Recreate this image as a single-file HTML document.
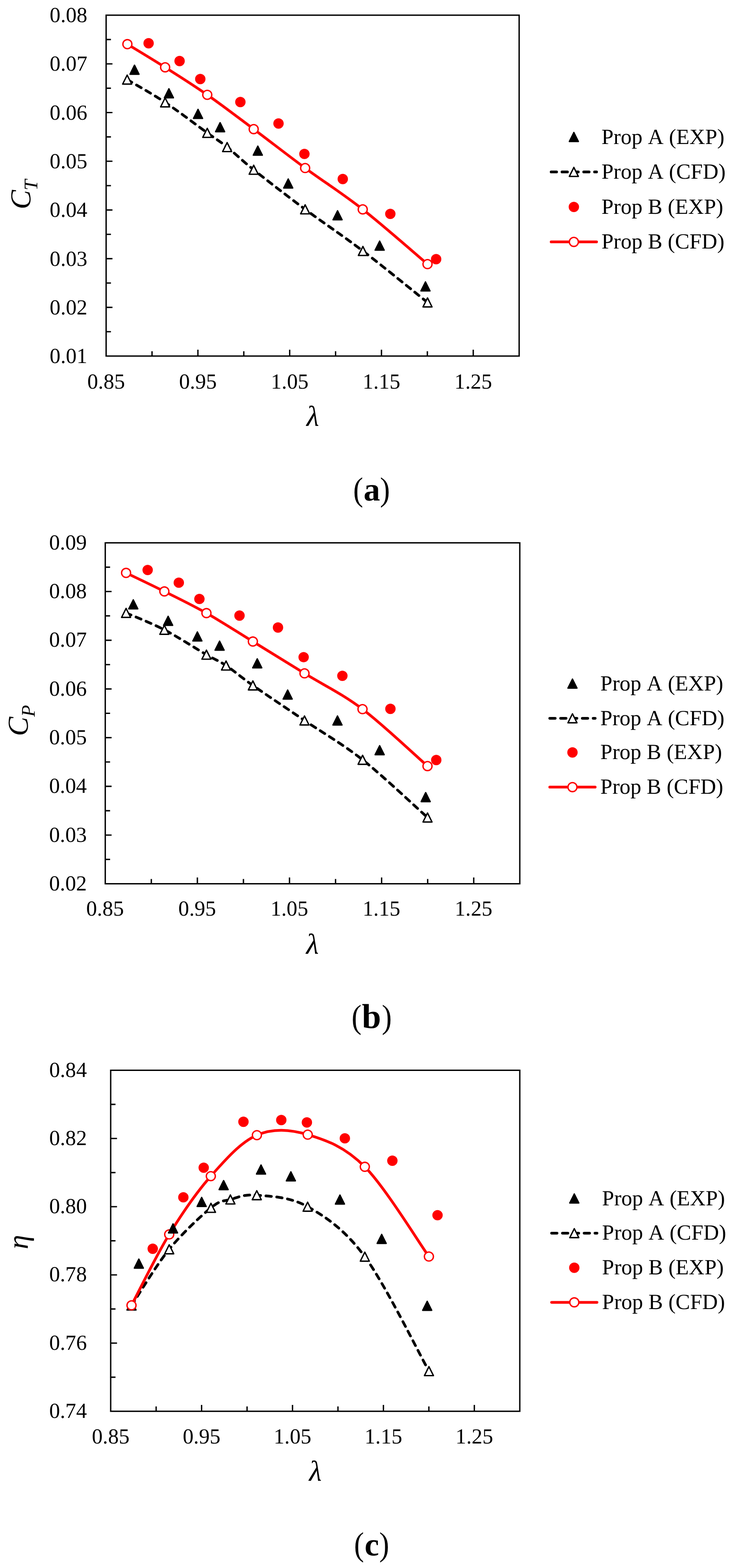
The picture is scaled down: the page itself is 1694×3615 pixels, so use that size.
<!DOCTYPE html>
<html lang="en"><head><meta charset="utf-8"><title>Propeller performance: thrust, power and efficiency</title>
<style>html,body{margin:0;padding:0;background:#fff}body{width:1694px;height:3615px;overflow:hidden}svg{display:block}text{font-family:"Liberation Serif","DejaVu Serif",serif;fill:#000;font-kerning:none;text-rendering:geometricPrecision}</style>
</head><body>
<svg width="1694" height="3615" viewBox="0 0 1694 3615">
<rect width="1694" height="3615" fill="#fff"/>
<g>
<path d="M293.1 183.5C307.68 192.25 349.83 215.53 380.6 236C411.37 256.47 453.88 289.12 477.7 306.3C501.52 323.48 505.67 324.92 523.5 339.1C541.33 353.28 554.73 367.48 584.7 391.4C614.67 415.32 661.35 451.4 703.3 482.6C745.25 513.8 789.4 542.83 836.4 578.6C883.4 614.37 960.48 677.43 985.3 697.2" fill="none" stroke="#000000" stroke-width="6.25" stroke-linecap="round" stroke-linejoin="round" stroke-dasharray="12.5 12.5" stroke-dashoffset="0"/>
<path d="M293.6 101.8C308.1 110.7 349.92 135.73 380.6 155.2C411.28 174.67 443.68 194.85 477.7 218.6C511.72 242.35 547.1 269.57 584.7 297.7C622.3 325.83 661.42 356.57 703.3 387.4C745.18 418.23 789 445.78 836 482.7C883 519.62 960.42 587.87 985.3 608.9" fill="none" stroke="#ff0000" stroke-width="6.25" stroke-linecap="round" stroke-linejoin="round"/>
<path d="M293.1 173.1L303.5 193.9L282.7 193.9Z" fill="#fff" stroke="#000000" stroke-width="3.12" stroke-linejoin="round"/>
<path d="M380.6 225.6L391 246.4L370.2 246.4Z" fill="#fff" stroke="#000000" stroke-width="3.12" stroke-linejoin="round"/>
<path d="M477.7 295.9L488.1 316.7L467.3 316.7Z" fill="#fff" stroke="#000000" stroke-width="3.12" stroke-linejoin="round"/>
<path d="M523.5 328.7L533.9 349.5L513.1 349.5Z" fill="#fff" stroke="#000000" stroke-width="3.12" stroke-linejoin="round"/>
<path d="M584.7 381L595.1 401.8L574.3 401.8Z" fill="#fff" stroke="#000000" stroke-width="3.12" stroke-linejoin="round"/>
<path d="M703.3 472.2L713.7 493L692.9 493Z" fill="#fff" stroke="#000000" stroke-width="3.12" stroke-linejoin="round"/>
<path d="M836.4 568.2L846.8 589L826 589Z" fill="#fff" stroke="#000000" stroke-width="3.12" stroke-linejoin="round"/>
<path d="M985.3 686.8L995.7 707.6L974.9 707.6Z" fill="#fff" stroke="#000000" stroke-width="3.12" stroke-linejoin="round"/>
<circle cx="293.6" cy="101.8" r="10.4" fill="#fff" stroke="#ff0000" stroke-width="3.12"/>
<circle cx="380.6" cy="155.2" r="10.4" fill="#fff" stroke="#ff0000" stroke-width="3.12"/>
<circle cx="477.7" cy="218.6" r="10.4" fill="#fff" stroke="#ff0000" stroke-width="3.12"/>
<circle cx="584.7" cy="297.7" r="10.4" fill="#fff" stroke="#ff0000" stroke-width="3.12"/>
<circle cx="703.3" cy="387.4" r="10.4" fill="#fff" stroke="#ff0000" stroke-width="3.12"/>
<circle cx="836" cy="482.7" r="10.4" fill="#fff" stroke="#ff0000" stroke-width="3.12"/>
<circle cx="985.3" cy="608.9" r="10.4" fill="#fff" stroke="#ff0000" stroke-width="3.12"/>
<path d="M310 150.3L320.4 171.1L299.6 171.1Z" fill="#000000" stroke="#000000" stroke-width="3.12" stroke-linejoin="round"/>
<path d="M389.3 204.7L399.7 225.5L378.9 225.5Z" fill="#000000" stroke="#000000" stroke-width="3.12" stroke-linejoin="round"/>
<path d="M456.4 252.2L466.8 273L446 273Z" fill="#000000" stroke="#000000" stroke-width="3.12" stroke-linejoin="round"/>
<path d="M507.3 282.8L517.7 303.6L496.9 303.6Z" fill="#000000" stroke="#000000" stroke-width="3.12" stroke-linejoin="round"/>
<path d="M594.2 337L604.6 357.8L583.8 357.8Z" fill="#000000" stroke="#000000" stroke-width="3.12" stroke-linejoin="round"/>
<path d="M664.3 412.6L674.7 433.4L653.9 433.4Z" fill="#000000" stroke="#000000" stroke-width="3.12" stroke-linejoin="round"/>
<path d="M778 485.9L788.4 506.7L767.6 506.7Z" fill="#000000" stroke="#000000" stroke-width="3.12" stroke-linejoin="round"/>
<path d="M875 556L885.4 576.8L864.6 576.8Z" fill="#000000" stroke="#000000" stroke-width="3.12" stroke-linejoin="round"/>
<path d="M980.6 650L991 670.8L970.2 670.8Z" fill="#000000" stroke="#000000" stroke-width="3.12" stroke-linejoin="round"/>
<circle cx="342.5" cy="99.8" r="10.4" fill="#ff0000" stroke="#ff0000" stroke-width="3.12"/>
<circle cx="413.9" cy="140.8" r="10.4" fill="#ff0000" stroke="#ff0000" stroke-width="3.12"/>
<circle cx="461.6" cy="182.3" r="10.4" fill="#ff0000" stroke="#ff0000" stroke-width="3.12"/>
<circle cx="554" cy="235.2" r="10.4" fill="#ff0000" stroke="#ff0000" stroke-width="3.12"/>
<circle cx="641.9" cy="284.8" r="10.4" fill="#ff0000" stroke="#ff0000" stroke-width="3.12"/>
<circle cx="701.6" cy="354.9" r="10.4" fill="#ff0000" stroke="#ff0000" stroke-width="3.12"/>
<circle cx="790" cy="412.8" r="10.4" fill="#ff0000" stroke="#ff0000" stroke-width="3.12"/>
<circle cx="899.6" cy="493.1" r="10.4" fill="#ff0000" stroke="#ff0000" stroke-width="3.12"/>
<circle cx="1005.2" cy="597.5" r="10.4" fill="#ff0000" stroke="#ff0000" stroke-width="3.12"/>
<rect x="244.6" y="35" width="951.9" height="785.9" fill="none" stroke="#000" stroke-width="3.12"/>
<path d="M244.6 91.14h11.1M244.6 147.27h14.6M244.6 203.41h11.1M244.6 259.54h14.6M244.6 315.68h11.1M244.6 371.81h14.6M244.6 427.95h11.1M244.6 484.09h14.6M244.6 540.22h11.1M244.6 596.36h14.6M244.6 652.49h11.1M244.6 708.63h14.6M244.6 764.76h11.1M350.37 820.9v-11.1M456.13 820.9v-14.6M561.9 820.9v-11.1M667.67 820.9v-14.6M773.43 820.9v-11.1M879.2 820.9v-14.6M984.97 820.9v-11.1M1090.73 820.9v-14.6" fill="none" stroke="#000" stroke-width="3.12"/>
<text x="201.4" y="51.2" font-size="49.6" text-anchor="end">0.08</text>
<text x="201.4" y="163.47" font-size="49.6" text-anchor="end">0.07</text>
<text x="201.4" y="275.74" font-size="49.6" text-anchor="end">0.06</text>
<text x="201.4" y="388.01" font-size="49.6" text-anchor="end">0.05</text>
<text x="201.4" y="500.29" font-size="49.6" text-anchor="end">0.04</text>
<text x="201.4" y="612.56" font-size="49.6" text-anchor="end">0.03</text>
<text x="201.4" y="724.83" font-size="49.6" text-anchor="end">0.02</text>
<text x="201.4" y="837.1" font-size="49.6" text-anchor="end">0.01</text>
<text x="244.6" y="895.9" font-size="49.6" text-anchor="middle">0.85</text>
<text x="456.13" y="895.9" font-size="49.6" text-anchor="middle">0.95</text>
<text x="667.67" y="895.9" font-size="49.6" text-anchor="middle">1.05</text>
<text x="879.2" y="895.9" font-size="49.6" text-anchor="middle">1.15</text>
<text x="1090.73" y="895.9" font-size="49.6" text-anchor="middle">1.25</text>
<text x="721" y="981.5" font-size="66.7" font-style="italic" text-anchor="middle">λ</text>
<text transform="translate(70 482.5) rotate(-90)" font-size="66.7" font-style="italic">C<tspan font-size="44.5" dy="16" dx="-0.9">T</tspan></text>
<path d="M1322.6 305.5L1333 326.3L1312.2 326.3Z" fill="#000000" stroke="#000000" stroke-width="3.12" stroke-linejoin="round"/>
<path d="M1270.3 396.4H1374.9" fill="none" stroke="#000" stroke-width="6.25" stroke-linecap="round" stroke-dasharray="12.5 12.5"/>
<path d="M1322.6 386L1333 406.8L1312.2 406.8Z" fill="#fff" stroke="#000000" stroke-width="3.12" stroke-linejoin="round"/>
<circle cx="1322.6" cy="477.1" r="10.4" fill="#ff0000" stroke="#ff0000" stroke-width="3.12"/>
<path d="M1270.3 557.7H1374.9" fill="none" stroke="#ff0000" stroke-width="6.25" stroke-linecap="round"/>
<circle cx="1322.6" cy="557.7" r="10.4" fill="#fff" stroke="#ff0000" stroke-width="3.12"/>
<text x="1386.3" y="332.2" font-size="50">Prop A (EXP)</text>
<text x="1386.3" y="412.3" font-size="50">Prop A (CFD)</text>
<text x="1386.3" y="492.7" font-size="50">Prop B (EXP)</text>
<text x="1386.3" y="573.3" font-size="50">Prop B (CFD)</text>
<text transform="translate(814.06 1153.7) scale(0.92 1.03)" font-size="75">(</text>
<text transform="translate(875.7 1153.7) scale(0.92 1.03)" font-size="75">)</text>
<text x="838" y="1153.5" font-size="76" font-weight="bold">a</text>
</g>
<g>
<path d="M290.6 1413C305.3 1419.5 347.93 1435.93 378.8 1452C409.67 1468.07 452.1 1495.68 475.8 1509.4C499.5 1523.12 503.17 1522.5 521 1534.3C538.83 1546.1 552.67 1559.08 582.8 1580.2C612.93 1601.32 659.65 1632.42 701.8 1661C743.95 1689.58 788.45 1714.42 835.7 1751.7C882.95 1788.98 960.37 1862.53 985.3 1884.7" fill="none" stroke="#000000" stroke-width="6.25" stroke-linecap="round" stroke-linejoin="round" stroke-dasharray="12.5 12.5" stroke-dashoffset="0"/>
<path d="M290.6 1320.8C305.3 1327.92 347.93 1348.05 378.8 1363.5C409.67 1378.95 441.8 1394.25 475.8 1413.5C509.8 1432.75 545.13 1455.85 582.8 1479C620.47 1502.15 659.68 1526.42 701.8 1552.4C743.92 1578.38 788.25 1599.27 835.5 1634.9C882.75 1670.53 960.33 1744.32 985.3 1766.2" fill="none" stroke="#ff0000" stroke-width="6.25" stroke-linecap="round" stroke-linejoin="round"/>
<path d="M290.6 1402.6L301 1423.4L280.2 1423.4Z" fill="#fff" stroke="#000000" stroke-width="3.12" stroke-linejoin="round"/>
<path d="M378.8 1441.6L389.2 1462.4L368.4 1462.4Z" fill="#fff" stroke="#000000" stroke-width="3.12" stroke-linejoin="round"/>
<path d="M475.8 1499L486.2 1519.8L465.4 1519.8Z" fill="#fff" stroke="#000000" stroke-width="3.12" stroke-linejoin="round"/>
<path d="M521 1523.9L531.4 1544.7L510.6 1544.7Z" fill="#fff" stroke="#000000" stroke-width="3.12" stroke-linejoin="round"/>
<path d="M582.8 1569.8L593.2 1590.6L572.4 1590.6Z" fill="#fff" stroke="#000000" stroke-width="3.12" stroke-linejoin="round"/>
<path d="M701.8 1650.6L712.2 1671.4L691.4 1671.4Z" fill="#fff" stroke="#000000" stroke-width="3.12" stroke-linejoin="round"/>
<path d="M835.7 1741.3L846.1 1762.1L825.3 1762.1Z" fill="#fff" stroke="#000000" stroke-width="3.12" stroke-linejoin="round"/>
<path d="M985.3 1874.3L995.7 1895.1L974.9 1895.1Z" fill="#fff" stroke="#000000" stroke-width="3.12" stroke-linejoin="round"/>
<circle cx="290.6" cy="1320.8" r="10.4" fill="#fff" stroke="#ff0000" stroke-width="3.12"/>
<circle cx="378.8" cy="1363.5" r="10.4" fill="#fff" stroke="#ff0000" stroke-width="3.12"/>
<circle cx="475.8" cy="1413.5" r="10.4" fill="#fff" stroke="#ff0000" stroke-width="3.12"/>
<circle cx="582.8" cy="1479" r="10.4" fill="#fff" stroke="#ff0000" stroke-width="3.12"/>
<circle cx="701.8" cy="1552.4" r="10.4" fill="#fff" stroke="#ff0000" stroke-width="3.12"/>
<circle cx="835.5" cy="1634.9" r="10.4" fill="#fff" stroke="#ff0000" stroke-width="3.12"/>
<circle cx="985.3" cy="1766.2" r="10.4" fill="#fff" stroke="#ff0000" stroke-width="3.12"/>
<path d="M307.2 1382.9L317.6 1403.7L296.8 1403.7Z" fill="#000000" stroke="#000000" stroke-width="3.12" stroke-linejoin="round"/>
<path d="M387.5 1421L397.9 1441.8L377.1 1441.8Z" fill="#000000" stroke="#000000" stroke-width="3.12" stroke-linejoin="round"/>
<path d="M454.9 1457L465.3 1477.8L444.5 1477.8Z" fill="#000000" stroke="#000000" stroke-width="3.12" stroke-linejoin="round"/>
<path d="M506.1 1478.1L516.5 1498.9L495.7 1498.9Z" fill="#000000" stroke="#000000" stroke-width="3.12" stroke-linejoin="round"/>
<path d="M592.9 1518.9L603.3 1539.7L582.5 1539.7Z" fill="#000000" stroke="#000000" stroke-width="3.12" stroke-linejoin="round"/>
<path d="M663 1590.9L673.4 1611.7L652.6 1611.7Z" fill="#000000" stroke="#000000" stroke-width="3.12" stroke-linejoin="round"/>
<path d="M777.8 1650.7L788.2 1671.5L767.4 1671.5Z" fill="#000000" stroke="#000000" stroke-width="3.12" stroke-linejoin="round"/>
<path d="M875 1719.2L885.4 1740L864.6 1740Z" fill="#000000" stroke="#000000" stroke-width="3.12" stroke-linejoin="round"/>
<path d="M981.1 1827.3L991.5 1848.1L970.7 1848.1Z" fill="#000000" stroke="#000000" stroke-width="3.12" stroke-linejoin="round"/>
<circle cx="340.3" cy="1314.1" r="10.4" fill="#ff0000" stroke="#ff0000" stroke-width="3.12"/>
<circle cx="412.1" cy="1343.4" r="10.4" fill="#ff0000" stroke="#ff0000" stroke-width="3.12"/>
<circle cx="459.6" cy="1380.9" r="10.4" fill="#ff0000" stroke="#ff0000" stroke-width="3.12"/>
<circle cx="552" cy="1419.3" r="10.4" fill="#ff0000" stroke="#ff0000" stroke-width="3.12"/>
<circle cx="640.7" cy="1446.7" r="10.4" fill="#ff0000" stroke="#ff0000" stroke-width="3.12"/>
<circle cx="699.8" cy="1515.1" r="10.4" fill="#ff0000" stroke="#ff0000" stroke-width="3.12"/>
<circle cx="789.1" cy="1558.1" r="10.4" fill="#ff0000" stroke="#ff0000" stroke-width="3.12"/>
<circle cx="899.8" cy="1634.2" r="10.4" fill="#ff0000" stroke="#ff0000" stroke-width="3.12"/>
<circle cx="1005.5" cy="1752.2" r="10.4" fill="#ff0000" stroke="#ff0000" stroke-width="3.12"/>
<rect x="242.6" y="1251.5" width="955.4" height="786" fill="none" stroke="#000" stroke-width="3.12"/>
<path d="M242.6 1307.64h11.1M242.6 1363.79h14.6M242.6 1419.93h11.1M242.6 1476.07h14.6M242.6 1532.21h11.1M242.6 1588.36h14.6M242.6 1644.5h11.1M242.6 1700.64h14.6M242.6 1756.79h11.1M242.6 1812.93h14.6M242.6 1869.07h11.1M242.6 1925.21h14.6M242.6 1981.36h11.1M348.76 2037.5v-11.1M454.91 2037.5v-14.6M561.07 2037.5v-11.1M667.22 2037.5v-14.6M773.38 2037.5v-11.1M879.53 2037.5v-14.6M985.69 2037.5v-11.1M1091.84 2037.5v-14.6" fill="none" stroke="#000" stroke-width="3.12"/>
<text x="200.1" y="1266.9" font-size="49.6" text-anchor="end">0.09</text>
<text x="200.1" y="1379.19" font-size="49.6" text-anchor="end">0.08</text>
<text x="200.1" y="1491.47" font-size="49.6" text-anchor="end">0.07</text>
<text x="200.1" y="1603.76" font-size="49.6" text-anchor="end">0.06</text>
<text x="200.1" y="1716.04" font-size="49.6" text-anchor="end">0.05</text>
<text x="200.1" y="1828.33" font-size="49.6" text-anchor="end">0.04</text>
<text x="200.1" y="1940.61" font-size="49.6" text-anchor="end">0.03</text>
<text x="200.1" y="2052.9" font-size="49.6" text-anchor="end">0.02</text>
<text x="242.2" y="2111" font-size="49.6" text-anchor="middle">0.85</text>
<text x="454.51" y="2111" font-size="49.6" text-anchor="middle">0.95</text>
<text x="666.82" y="2111" font-size="49.6" text-anchor="middle">1.05</text>
<text x="879.13" y="2111" font-size="49.6" text-anchor="middle">1.15</text>
<text x="1091.44" y="2111" font-size="49.6" text-anchor="middle">1.25</text>
<text x="720.3" y="2198.5" font-size="66.7" font-style="italic" text-anchor="middle">λ</text>
<text transform="translate(63.5 1697) rotate(-90)" font-size="66.7" font-style="italic">C<tspan font-size="44.5" dy="16" dx="0">P</tspan></text>
<path d="M1319.4 1565.6L1329.8 1586.4L1309 1586.4Z" fill="#000000" stroke="#000000" stroke-width="3.12" stroke-linejoin="round"/>
<path d="M1267.1 1656H1371.7" fill="none" stroke="#000" stroke-width="6.25" stroke-linecap="round" stroke-dasharray="12.5 12.5"/>
<path d="M1319.4 1645.6L1329.8 1666.4L1309 1666.4Z" fill="#fff" stroke="#000000" stroke-width="3.12" stroke-linejoin="round"/>
<circle cx="1319.4" cy="1734.8" r="10.4" fill="#ff0000" stroke="#ff0000" stroke-width="3.12"/>
<path d="M1267.1 1814.7H1371.7" fill="none" stroke="#ff0000" stroke-width="6.25" stroke-linecap="round"/>
<circle cx="1319.4" cy="1814.7" r="10.4" fill="#fff" stroke="#ff0000" stroke-width="3.12"/>
<text x="1383.6" y="1592" font-size="50">Prop A (EXP)</text>
<text x="1383.6" y="1671.5" font-size="50">Prop A (CFD)</text>
<text x="1383.6" y="1750.3" font-size="50">Prop B (EXP)</text>
<text x="1383.6" y="1830.3" font-size="50">Prop B (CFD)</text>
<text transform="translate(810.2 2369.6) scale(0.92 1.03)" font-size="75">(</text>
<text transform="translate(879.9 2369.6) scale(0.92 1.03)" font-size="75">)</text>
<text x="833.9" y="2369.8" font-size="79.5" font-weight="bold">b</text>
</g>
<g>
<path d="M303.1 3009.8C317.58 2988.2 359.48 2917.73 390 2880.2C420.52 2842.67 462.7 2803.73 486.2 2784.6C509.7 2765.47 513.4 2770.25 531 2765.4C548.6 2760.55 562.13 2752.73 591.8 2755.5C621.47 2758.27 667.5 2758.38 709 2782C750.5 2805.62 794.2 2834.02 840.8 2897.2C887.4 2960.38 963.97 3117.12 988.6 3161.1" fill="none" stroke="#000000" stroke-width="6.25" stroke-linecap="round" stroke-linejoin="round" stroke-dasharray="12.5 12.5" stroke-dashoffset="0"/>
<path d="M303.1 3009.4C317.58 2982.15 359.53 2895.53 390 2845.9C420.47 2796.27 452.22 2749.73 485.9 2711.6C519.58 2673.47 554.88 2633.05 592.1 2617.1C629.32 2601.15 667.75 2603.75 709.2 2615.9C750.65 2628.05 794.25 2643.17 840.8 2690C887.35 2736.83 963.88 2862.42 988.5 2896.9" fill="none" stroke="#ff0000" stroke-width="6.25" stroke-linecap="round" stroke-linejoin="round"/>
<path d="M303.1 2999.4L313.5 3020.2L292.7 3020.2Z" fill="#fff" stroke="#000000" stroke-width="3.12" stroke-linejoin="round"/>
<path d="M390 2869.8L400.4 2890.6L379.6 2890.6Z" fill="#fff" stroke="#000000" stroke-width="3.12" stroke-linejoin="round"/>
<path d="M486.2 2774.2L496.6 2795L475.8 2795Z" fill="#fff" stroke="#000000" stroke-width="3.12" stroke-linejoin="round"/>
<path d="M531 2755L541.4 2775.8L520.6 2775.8Z" fill="#fff" stroke="#000000" stroke-width="3.12" stroke-linejoin="round"/>
<path d="M591.8 2745.1L602.2 2765.9L581.4 2765.9Z" fill="#fff" stroke="#000000" stroke-width="3.12" stroke-linejoin="round"/>
<path d="M709 2771.6L719.4 2792.4L698.6 2792.4Z" fill="#fff" stroke="#000000" stroke-width="3.12" stroke-linejoin="round"/>
<path d="M840.8 2886.8L851.2 2907.6L830.4 2907.6Z" fill="#fff" stroke="#000000" stroke-width="3.12" stroke-linejoin="round"/>
<path d="M988.6 3150.7L999 3171.5L978.2 3171.5Z" fill="#fff" stroke="#000000" stroke-width="3.12" stroke-linejoin="round"/>
<circle cx="303.1" cy="3009.4" r="10.4" fill="#fff" stroke="#ff0000" stroke-width="3.12"/>
<circle cx="390" cy="2845.9" r="10.4" fill="#fff" stroke="#ff0000" stroke-width="3.12"/>
<circle cx="485.9" cy="2711.6" r="10.4" fill="#fff" stroke="#ff0000" stroke-width="3.12"/>
<circle cx="592.1" cy="2617.1" r="10.4" fill="#fff" stroke="#ff0000" stroke-width="3.12"/>
<circle cx="709.2" cy="2615.9" r="10.4" fill="#fff" stroke="#ff0000" stroke-width="3.12"/>
<circle cx="840.8" cy="2690" r="10.4" fill="#fff" stroke="#ff0000" stroke-width="3.12"/>
<circle cx="988.5" cy="2896.9" r="10.4" fill="#fff" stroke="#ff0000" stroke-width="3.12"/>
<path d="M320 2902.8L330.4 2923.6L309.6 2923.6Z" fill="#000000" stroke="#000000" stroke-width="3.12" stroke-linejoin="round"/>
<path d="M398.8 2821.6L409.2 2842.4L388.4 2842.4Z" fill="#000000" stroke="#000000" stroke-width="3.12" stroke-linejoin="round"/>
<path d="M464.8 2760.7L475.2 2781.5L454.4 2781.5Z" fill="#000000" stroke="#000000" stroke-width="3.12" stroke-linejoin="round"/>
<path d="M515.4 2721.8L525.8 2742.6L505 2742.6Z" fill="#000000" stroke="#000000" stroke-width="3.12" stroke-linejoin="round"/>
<path d="M601.6 2686L612 2706.8L591.2 2706.8Z" fill="#000000" stroke="#000000" stroke-width="3.12" stroke-linejoin="round"/>
<path d="M670.4 2701.6L680.8 2722.4L660 2722.4Z" fill="#000000" stroke="#000000" stroke-width="3.12" stroke-linejoin="round"/>
<path d="M783.5 2755.1L793.9 2775.9L773.1 2775.9Z" fill="#000000" stroke="#000000" stroke-width="3.12" stroke-linejoin="round"/>
<path d="M879.7 2845.9L890.1 2866.7L869.3 2866.7Z" fill="#000000" stroke="#000000" stroke-width="3.12" stroke-linejoin="round"/>
<path d="M984.6 3000.1L995 3020.9L974.2 3020.9Z" fill="#000000" stroke="#000000" stroke-width="3.12" stroke-linejoin="round"/>
<circle cx="352" cy="2879" r="10.4" fill="#ff0000" stroke="#ff0000" stroke-width="3.12"/>
<circle cx="422.6" cy="2760.4" r="10.4" fill="#ff0000" stroke="#ff0000" stroke-width="3.12"/>
<circle cx="469.5" cy="2692.1" r="10.4" fill="#ff0000" stroke="#ff0000" stroke-width="3.12"/>
<circle cx="561.1" cy="2586.2" r="10.4" fill="#ff0000" stroke="#ff0000" stroke-width="3.12"/>
<circle cx="648.3" cy="2582.3" r="10.4" fill="#ff0000" stroke="#ff0000" stroke-width="3.12"/>
<circle cx="707.3" cy="2587.7" r="10.4" fill="#ff0000" stroke="#ff0000" stroke-width="3.12"/>
<circle cx="794.8" cy="2624.4" r="10.4" fill="#ff0000" stroke="#ff0000" stroke-width="3.12"/>
<circle cx="904.3" cy="2676" r="10.4" fill="#ff0000" stroke="#ff0000" stroke-width="3.12"/>
<circle cx="1008.4" cy="2801.6" r="10.4" fill="#ff0000" stroke="#ff0000" stroke-width="3.12"/>
<rect x="255.1" y="2467.5" width="942.9" height="786.2" fill="none" stroke="#000" stroke-width="3.12"/>
<path d="M255.1 2546.12h11.1M255.1 2624.74h14.6M255.1 2703.36h11.1M255.1 2781.98h14.6M255.1 2860.6h11.1M255.1 2939.22h14.6M255.1 3017.84h11.1M255.1 3096.46h14.6M255.1 3175.08h11.1M359.87 3253.7v-11.1M464.63 3253.7v-14.6M569.4 3253.7v-11.1M674.17 3253.7v-14.6M778.93 3253.7v-11.1M883.7 3253.7v-14.6M988.47 3253.7v-11.1M1093.23 3253.7v-14.6" fill="none" stroke="#000" stroke-width="3.12"/>
<text x="200.2" y="2482.7" font-size="49.6" text-anchor="end">0.84</text>
<text x="200.2" y="2639.94" font-size="49.6" text-anchor="end">0.82</text>
<text x="200.2" y="2797.18" font-size="49.6" text-anchor="end">0.80</text>
<text x="200.2" y="2954.42" font-size="49.6" text-anchor="end">0.78</text>
<text x="200.2" y="3111.66" font-size="49.6" text-anchor="end">0.76</text>
<text x="200.2" y="3268.9" font-size="49.6" text-anchor="end">0.74</text>
<text x="255.1" y="3328" font-size="49.6" text-anchor="middle">0.85</text>
<text x="464.63" y="3328" font-size="49.6" text-anchor="middle">0.95</text>
<text x="674.17" y="3328" font-size="49.6" text-anchor="middle">1.05</text>
<text x="883.7" y="3328" font-size="49.6" text-anchor="middle">1.15</text>
<text x="1093.23" y="3328" font-size="49.6" text-anchor="middle">1.25</text>
<text x="727" y="3414" font-size="66.7" font-style="italic" text-anchor="middle">λ</text>
<text transform="translate(63.7 2880) rotate(-90)" font-size="66.7" font-style="italic">η</text>
<path d="M1323.6 2752.7L1334 2773.5L1313.2 2773.5Z" fill="#000000" stroke="#000000" stroke-width="3.12" stroke-linejoin="round"/>
<path d="M1271.3 2843H1375.9" fill="none" stroke="#000" stroke-width="6.25" stroke-linecap="round" stroke-dasharray="12.5 12.5"/>
<path d="M1323.6 2832.6L1334 2853.4L1313.2 2853.4Z" fill="#fff" stroke="#000000" stroke-width="3.12" stroke-linejoin="round"/>
<circle cx="1323.6" cy="2922.8" r="10.4" fill="#ff0000" stroke="#ff0000" stroke-width="3.12"/>
<path d="M1271.3 3002.5H1375.9" fill="none" stroke="#ff0000" stroke-width="6.25" stroke-linecap="round"/>
<circle cx="1323.6" cy="3002.5" r="10.4" fill="#fff" stroke="#ff0000" stroke-width="3.12"/>
<text x="1387.6" y="2779.3" font-size="50">Prop A (EXP)</text>
<text x="1387.6" y="2858.3" font-size="50">Prop A (CFD)</text>
<text x="1387.6" y="2937.8" font-size="50">Prop B (EXP)</text>
<text x="1387.6" y="3017.7" font-size="50">Prop B (CFD)</text>
<text transform="translate(815.9 3586.2) scale(0.92 1.03)" font-size="75">(</text>
<text transform="translate(873.9 3586.2) scale(0.92 1.03)" font-size="75">)</text>
<text x="840.2" y="3586.2" font-size="75" font-weight="bold">c</text>
</g>
</svg>
</body></html>
